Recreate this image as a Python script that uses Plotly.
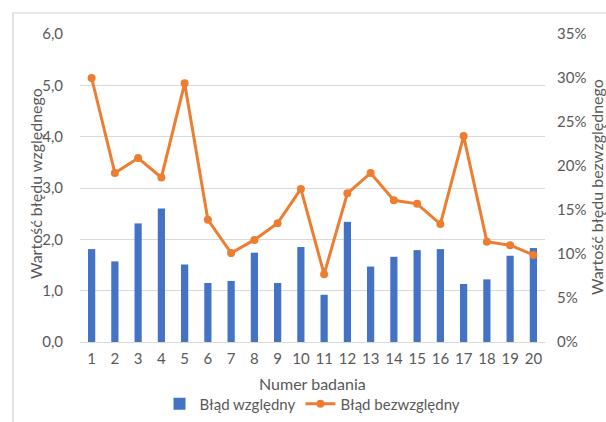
import plotly.graph_objects as go

categories = [str(i) for i in range(1, 21)]
rel_err = [1.81, 1.57, 2.31, 2.60, 1.51, 1.15, 1.19, 1.74, 1.15, 1.85,
           0.92, 2.34, 1.47, 1.66, 1.79, 1.81, 1.13, 1.22, 1.68, 1.83]
abs_err_pct = [30.0, 19.2, 20.9, 18.7, 29.4, 13.9, 10.1, 11.6, 13.5, 17.4,
               7.7, 16.9, 19.2, 16.1, 15.7, 13.4, 23.4, 11.4, 11.0, 9.9]
abs_err = [v / 100 for v in abs_err_pct]

FONT = "Lato"
GRAY = "#595959"
W, H = 606, 422
L, R, T, B = 80, 61, 34, 80
pw, ph = W - L - R, H - T - B


def px_x(x):
    return (x - L) / pw


def px_y(y):
    return (H - B - y) / ph


fig = go.Figure()
fig.add_trace(go.Bar(
    x=categories, y=rel_err, name="Błąd względny",
    marker=dict(color="#4472C4", line=dict(width=0)), width=0.31,
    yaxis="y",
))
fig.add_trace(go.Scatter(
    x=categories, y=abs_err, name="Błąd bezwzględny",
    mode="lines+markers",
    line=dict(color="#ED7D31", width=3),
    marker=dict(color="#ED7D31", size=8),
    yaxis="y2",
))

fig.update_layout(
    width=W, height=H,
    margin=dict(l=L, r=R, t=T, b=B, autoexpand=False),
    paper_bgcolor="white", plot_bgcolor="white",
    separators=", ",
    font=dict(family=FONT, size=14, color=GRAY),
    showlegend=True,
    legend=dict(orientation="h", x=0.5, xanchor="center",
                y=px_y(404), yanchor="middle",
                font=dict(family=FONT, size=15, color=GRAY),
                bgcolor="rgba(0,0,0,0)"),
    xaxis=dict(type="category", range=[-0.5, 19.5], autorange=False,
               showgrid=False, showline=False,
               ticks="", automargin=False, ticklabelstandoff=6,
               tickfont=dict(size=15, color=GRAY)),
    yaxis=dict(range=[0, 6], dtick=1, tickformat=".1f",
               showgrid=True, gridcolor="#D9D9D9", gridwidth=1,
               zeroline=True, zerolinecolor="#D9D9D9", zerolinewidth=1,
               showline=False, ticks="", ticklabelstandoff=16,
               automargin=False,
               tickfont=dict(size=15, color=GRAY)),
    yaxis2=dict(range=[0, 0.35], dtick=0.05, tickformat=".0%",
                overlaying="y", side="right", showgrid=False,
                zeroline=False, showline=False, ticks="",
                ticklabelstandoff=11, automargin=False,
                tickfont=dict(size=15, color=GRAY)),
    bargap=0.69,
    shapes=[dict(type="rect", xref="paper", yref="paper",
                 x0=px_x(13), x1=px_x(612), y0=px_y(428), y1=px_y(13),
                 line=dict(color="#D0D0D0", width=1.2), layer="below")],
    annotations=[
        dict(text="Numer badania", xref="paper", yref="paper",
             x=0.5, y=px_y(383), showarrow=False,
             xanchor="center", yanchor="middle",
             font=dict(family=FONT, size=16, color=GRAY)),
        dict(text="Wartość błędu względnego", xref="paper", yref="paper",
             x=px_x(35), y=px_y(184), showarrow=False, textangle=-90,
             xanchor="center", yanchor="middle",
             font=dict(family=FONT, size=16, color=GRAY)),
        dict(text="Wartość błędu bezwzględnego", xref="paper", yref="paper",
             x=px_x(596), y=px_y(187), showarrow=False, textangle=-90,
             xanchor="center", yanchor="middle",
             font=dict(family=FONT, size=16, color=GRAY)),
    ],
)

fig.write_html(
    "out.html",
    config={"displayModeBar": False},
    post_script="document.body.style.margin='0';document.body.style.overflow='hidden';",
)
